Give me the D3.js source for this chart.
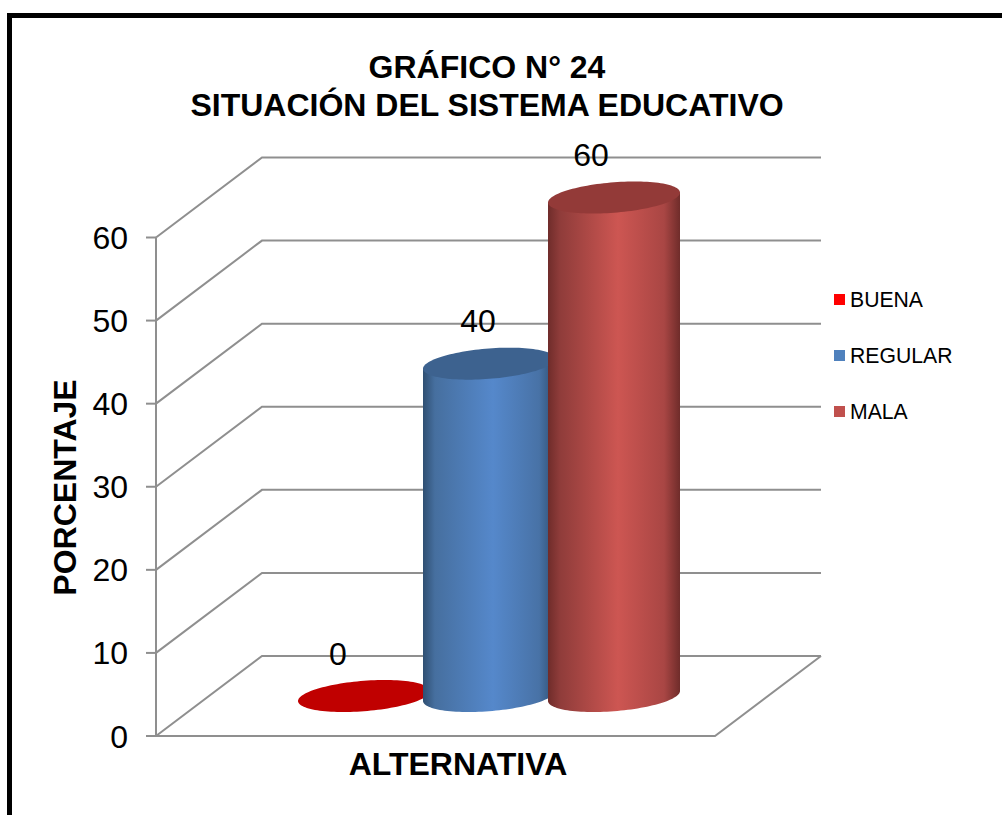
<!DOCTYPE html>
<html><head><meta charset="utf-8">
<script src="https://cdnjs.cloudflare.com/ajax/libs/d3/7.8.5/d3.min.js"></script>
<style>html,body{margin:0;padding:0;background:#fff}svg{display:block}text{font-family:"Liberation Sans",Arial,sans-serif;fill:#000}</style>
</head><body><svg id="c" width="1002" height="815"></svg>
<script>
const seriesNames = ["BUENA","REGULAR","MALA"];
const seriesValues = [0,40,60];
const yTicks = [0,10,20,30,40,50,60];
const titleLines = ["GRÁFICO N° 24","SITUACIÓN DEL SISTEMA EDUCATIVO"];
const yTitle = "PORCENTAJE";
const xTitle = "ALTERNATIVA";
const legendColors = ["#ff0000","#4f81bd","#c0504d"];
const bodyStops = [
  ["#c00000","#c00000","#c00000","#c00000","#c00000"],
  ["#2f4f72","#466f9f","#5588cb","#4872a6","#2f4f72"],
  ["#6f2c2a","#8f3c3a","#cd5652","#a94644","#6f2c2a"]
];
const topColors = ["#c00000","#3d628f","#933a38"];

const svg = d3.select("#c");
const y = d3.scaleLinear().domain([0,60]).range([736,237.5]);
const x = d3.scaleBand().domain(seriesNames).range([301.5,676.5]);
const depth = {dx:106, dy:-80};
const floorW = 559;
const x0 = 156;

// frame
svg.append("path").attr("d","M9.5,815V15.5H1002").attr("fill","none").attr("stroke","#000").attr("stroke-width",5);

const g = svg.append("g").attr("fill","none").attr("stroke","#8f8f8f").attr("stroke-width",2);
yTicks.forEach(t=>{
  const yy=y(t);
  g.append("path").attr("d",`M${x0},${yy}L${x0+depth.dx},${yy+depth.dy}H${x0+depth.dx+floorW}`);
  g.append("line").attr("x1",x0-10).attr("x2",x0).attr("y1",yy).attr("y2",yy);
});
g.append("line").attr("x1",x0).attr("x2",x0).attr("y1",y(0)).attr("y2",y(60));
g.append("path").attr("d",`M${x0},${y(0)}H${x0+floorW}L${x0+depth.dx+floorW},${y(0)+depth.dy}`);

svg.selectAll("text.t").data(yTicks).join("text").attr("class","t")
  .attr("x",128).attr("y",d=>y(d)+11.5).attr("text-anchor","end").attr("font-size",32).text(d=>d);

titleLines.forEach((s,i)=>svg.append("text").attr("x",487).attr("y",i?116:78).attr("text-anchor","middle")
  .attr("font-size",32).attr("font-weight","bold").text(s));
svg.append("text").attr("transform","translate(76,487.5) rotate(-90)").attr("text-anchor","middle")
  .attr("font-size",32).attr("font-weight","bold").text(yTitle);
svg.append("text").attr("x",458).attr("y",775).attr("text-anchor","middle")
  .attr("font-size",32).attr("font-weight","bold").text(xTitle);

const defs = svg.append("defs");
bodyStops.forEach((st,i)=>{
  const gr = defs.append("linearGradient").attr("id","g"+i);
  [0,0.09,0.53,0.88,1].forEach((o,j)=>gr.append("stop").attr("offset",o).attr("stop-color",st[j]));
});

// cylinders: the cap is a sheared ellipse, left point lower than right point
const halfW = 66, shear = 5, capH = 15.2;
const floorCy = 696;
const scaleH = y(0)-y(1);
const capPt = (cx,cy,t)=>[cx+halfW*Math.cos(t), cy-shear*Math.cos(t)+capH*Math.sin(t)];
const line = d3.line();
seriesValues.forEach((v,k)=>{
  const cx = x(seriesNames[k])+x.bandwidth()/2;
  const cyB = floorCy, cyT = floorCy - v*scaleH;
  if(v>0){
    // bottom half of the ellipse from right to left, then the top edge closes it
    const lower = d3.range(0,Math.PI+0.001,Math.PI/60).map(t=>capPt(cx,cyB,t));
    const pts = lower.concat([capPt(cx,cyT,Math.PI),capPt(cx,cyT,0)]);
    svg.append("path").attr("d",line(pts)+"Z").attr("fill",`url(#g${k})`);
  }
  const cap = d3.range(0,2*Math.PI,Math.PI/60).map(t=>capPt(cx,cyT,t));
  svg.append("path").attr("d",line(cap)+"Z").attr("fill",topColors[k]);
});

const labelX=[338,478,591];
svg.selectAll("text.v").data(seriesValues).join("text").attr("class","v")
  .attr("x",(d,i)=>labelX[i]).attr("y",(d,i)=>[665,332,166][i]).attr("text-anchor","middle").attr("font-size",32).text(d=>d);

const legY=[300,356,412];
seriesNames.forEach((s,i)=>{
  svg.append("rect").attr("x",834).attr("y",legY[i]-6).attr("width",11).attr("height",11).attr("fill",legendColors[i]);
  svg.append("text").attr("x",850).attr("y",legY[i]+7).attr("font-size",21.2).text(s);
});
</script></body></html>
